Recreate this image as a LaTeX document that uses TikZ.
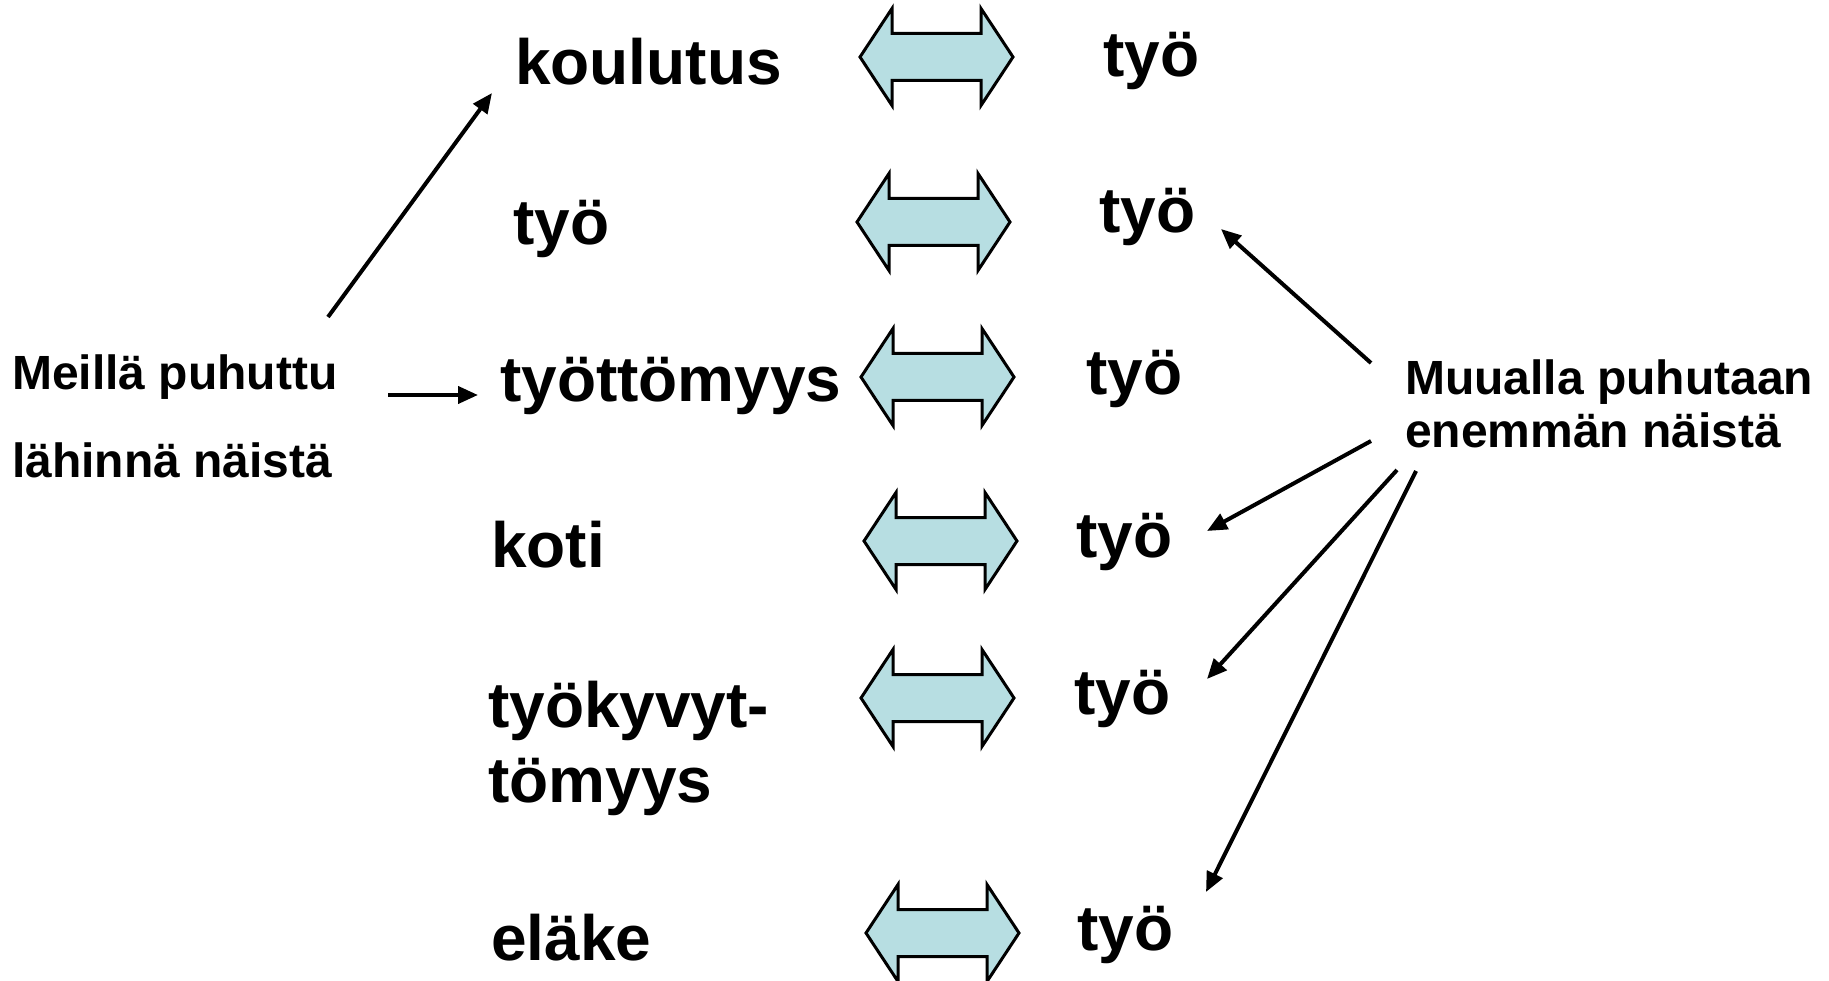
\documentclass[tikz,border=0pt]{standalone}
\usepackage{fontspec}
\setmainfont{Liberation Sans}
\usetikzlibrary{arrows.meta}
\definecolor{arrowfill}{RGB}{183,222,226}
\tikzset{
  big/.style={font=\bfseries\fontsize{64}{72}\selectfont, anchor=base west, inner sep=0pt},
  small/.style={font=\bfseries\fontsize{48}{56}\selectfont, anchor=base west, inner sep=0pt},
  conn/.style={line width=4pt, -{Triangle[length=20pt,width=17pt]}},
  dbl/.style={draw=black, line width=3pt, fill=arrowfill, line join=miter},
}
\newcommand\mydblarrow[2]{%
  \draw[dbl] (#1,#2) -- ++(32,-48.5) -- ++(0,25) -- ++(89,0) -- ++(0,-25) -- ++(32,48.5)
    -- ++(-32,48.5) -- ++(0,-25) -- ++(-89,0) -- ++(0,25) -- cycle;}
\begin{document}
\begin{tikzpicture}[x=1pt,y=-1pt]
\useasboundingbox (0,0) rectangle (1829,981);
% left column
\node[big] (koulutus) at (515,85) {koulutus};
\node[big] (tyoL) at (513,245) {työ};
\node[big] (tyottomyys) at (500,402) {työttömyys};
\node[big] (koti) at (491,567) {koti};
\node[big] (tyokyv1) at (488,727) {työkyvyt-};
\node[big] (tyokyv2) at (488,802) {tömyys};
\node[big] (elake) at (491,960) {eläke};
% double arrows
\mydblarrow{860}{57}
\mydblarrow{857}{222}
\mydblarrow{861}{377}
\mydblarrow{864}{541}
\mydblarrow{861}{698}
\mydblarrow{866}{933}
% right column
\node[big] (tyo1) at (1103,77) {työ};
\node[big] (tyo2) at (1099,233) {työ};
\node[big] (tyo3) at (1086,395) {työ};
\node[big] (tyo4) at (1076,557) {työ};
\node[big] (tyo5) at (1074,714) {työ};
\node[big] (tyo6) at (1077,950) {työ};
% side texts
\node[small] (meilla1) at (12,390) {Meillä puhuttu};
\node[small] (meilla2) at (12,477) {lähinnä näistä};
\node[small] (muualla1) at (1405,395) {Muualla puhutaan};
\node[small] (muualla2) at (1405,447) {enemmän näistä};
% connector endpoints
\coordinate (a1s) at (328,317);
\coordinate (a1e) at (492,93);
\coordinate (a2s) at (388,395);
\coordinate (a2e) at (478,395);
\coordinate (b1s) at (1371,363);
\coordinate (b1e) at (1221,229);
\coordinate (b2s) at (1371,441);
\coordinate (b2e) at (1207,531);
\coordinate (b3s) at (1397,470);
\coordinate (b3e) at (1207,679);
\coordinate (b4s) at (1416,471);
\coordinate (b4e) at (1206,892);
\draw[conn] (a1s) -- (a1e);
\draw[conn] (a2s) -- (a2e);
\draw[conn] (b1s) -- (b1e);
\draw[conn] (b2s) -- (b2e);
\draw[conn] (b3s) -- (b3e);
\draw[conn] (b4s) -- (b4e);
\end{tikzpicture}
\end{document}
